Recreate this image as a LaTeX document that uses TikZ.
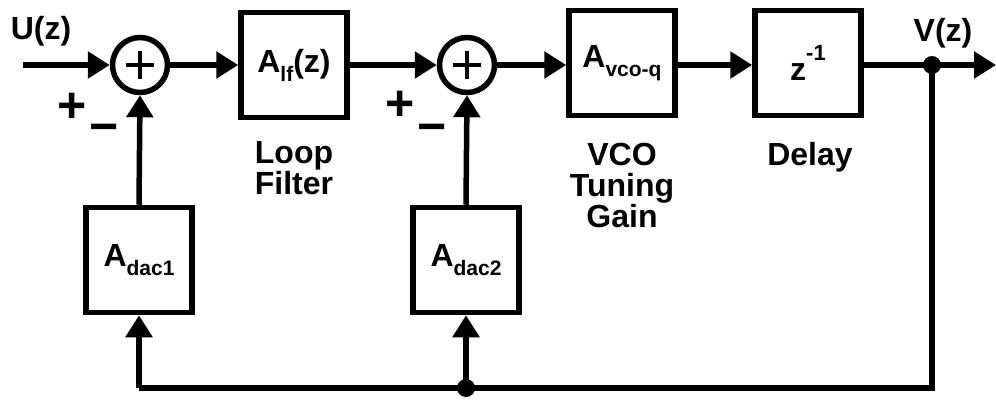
\documentclass[tikz,border=0pt]{standalone}
\usepackage{fontspec}
\setmainfont{Liberation Sans}
\usetikzlibrary{arrows.meta}
\newcommand{\subtxt}[1]{\raisebox{-0.28em}{\fontsize{21}{21}\selectfont #1}}
\newcommand{\suptxt}[1]{\raisebox{0.6em}{\fontsize{22}{22}\selectfont #1}}
\begin{document}
\begin{tikzpicture}[x=1pt,y=-1pt, line width=5.5pt,
  >={Triangle[length=22pt,width=26pt]},
  blk/.style={draw, minimum width=106pt, minimum height=105pt, inner sep=0pt,
    font=\fontsize{32}{32}\selectfont\bfseries},
  sumnode/.style={draw, circle, minimum size=55pt, inner sep=0pt},
  lbl/.style={font=\fontsize{32}{32}\selectfont\bfseries, inner sep=0pt},
  sign/.style={font=\fontsize{50}{50}\selectfont\bfseries, inner sep=0pt},
  dot/.style={circle, fill, minimum size=18pt, inner sep=0pt}]
\useasboundingbox (0,0) rectangle (996,399);

\node[sumnode] (s1) at (140,65) {};
\node[sumnode] (s2) at (467,65) {};
\foreach \s in {s1,s2}{
  \draw[line width=4.5pt] (\s.center) +(-14,0) -- +(14,0);
  \draw[line width=4.5pt] (\s.center) +(0,-14) -- +(0,14);
}
\node[blk] (alf) at (294,65) {A\subtxt{lf}(z)};
\node[blk] (vco) at (622,63) {A\subtxt{vco-q}};
\node[blk] (dly) at (808,63) {z\suptxt{-1}};
\node[blk] (d1) at (139,260) {A\subtxt{dac1}};
\node[blk] (d2) at (466,260) {A\subtxt{dac2}};

\coordinate (in) at (23,65);
\coordinate (out) at (996,65);
\node[dot] (vdot) at (932,65) {};
\node[dot] (fdot) at (466,388) {};
\coordinate (cr) at (932,388);
\coordinate (cl) at (139,388);

\draw[->] (in) -- (s1);
\draw[->] (s1) -- (alf);
\draw[->] (alf) -- (s2);
\draw[->] (s2) -- (vco.west |- s2);
\draw[->] (vco.east |- s2) -- (dly.west |- s2);
\draw[->] (dly.east |- s2) -- (out);
\draw (vdot.center) -- (cr) -- (cl);
\draw[->] (cl) -- (d1.south);
\draw[->] (fdot.center) -- (d2.south);
\draw[->] (d1.north) -- (s1.south);
\draw[->] (d2.north) -- (s2.south);

\node[lbl] (ulbl) at (41,31) {U(z)};
\node[lbl] (vlbl) at (943,33) {V(z)};
\node[sign] (p1) at (72,108) {+};
\node[sign] (m1) at (104,134) {−};
\node[sign] (p2) at (400,106) {+};
\node[sign] (m2) at (432,134) {−};

\node[lbl, align=center, anchor=north] (lf) at (294,139) {Loop\\[-1pt]Filter};
\node[lbl, align=center, anchor=north] (vt) at (622,140) {VCO\\[-1pt]Tuning\\[-1pt]Gain};
\node[lbl, anchor=north] (dl) at (810,140) {Delay};
\end{tikzpicture}
\end{document}
